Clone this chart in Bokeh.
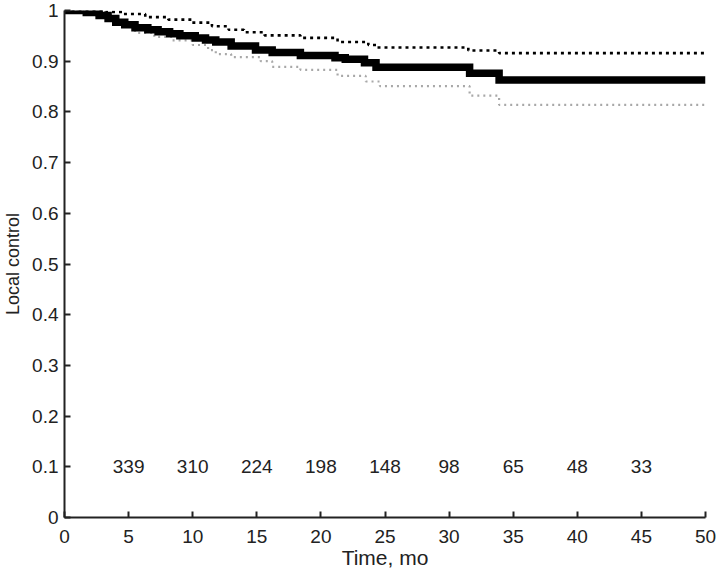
from bokeh.plotting import figure
from bokeh.models import ColumnDataSource, FixedTicker, Range1d
from bokeh.core.properties import value
from bokeh.embed import file_html
from bokeh.resources import INLINE

# Kaplan-Meier estimate (step times, values)
km_t = [0, 1.7, 2.7, 3.4, 4.0, 4.7, 5.5, 6.5, 7.3, 8.2, 9.0, 10.2, 11.0, 11.8,
        13.0, 14.9, 16.2, 18.4, 21.1, 21.9, 23.4, 24.3, 31.6, 33.9, 50]
km_s = [1.0, 0.996, 0.990, 0.984, 0.977, 0.972, 0.966, 0.962, 0.958, 0.954, 0.950,
        0.946, 0.942, 0.938, 0.930, 0.922, 0.917, 0.911, 0.907, 0.904, 0.897, 0.888,
        0.876, 0.863, 0.863]

# upper confidence bound
up_t = [0, 3.2, 4.5, 6.3, 8.1, 9.9, 11.5, 12.8, 14.0, 15.6, 18.4, 21.3, 23.7,
        24.3, 31.5, 33.9, 50]
up_s = [1.0, 0.997, 0.993, 0.987, 0.982, 0.976, 0.969, 0.962, 0.957, 0.951, 0.946,
        0.938, 0.932, 0.927, 0.921, 0.916, 0.916]

# lower confidence bound
lo_t = [0, 1.6, 2.2, 3.4, 4.7, 5.5, 7.0, 8.4, 10.0, 11.2, 11.8, 13.0, 15.3, 16.2,
        18.4, 21.3, 23.5, 24.6, 31.6, 33.9, 50]
lo_s = [1.0, 0.995, 0.990, 0.981, 0.971, 0.956, 0.948, 0.941, 0.932, 0.922, 0.914,
        0.908, 0.900, 0.889, 0.883, 0.871, 0.860, 0.851, 0.832, 0.814, 0.814]

# numbers at risk
risk_t = [5, 10, 15, 20, 25, 30, 35, 40, 45]
risk_n = ["339", "310", "224", "198", "148", "98", "65", "48", "33"]
risk_y = 0.1

x_ticks = [0, 5, 10, 15, 20, 25, 30, 35, 40, 45, 50]
y_ticks = [0, 0.1, 0.2, 0.3, 0.4, 0.5, 0.6, 0.7, 0.8, 0.9, 1]

FONT = "Liberation Sans"

p = figure(frame_width=641, frame_height=507, output_backend="svg",
           toolbar_location=None, x_range=Range1d(0, 50), y_range=Range1d(0, 1),
           min_border_top=10, min_border_right=13, min_border_left=64, min_border_bottom=0)
p.outline_line_color = None
p.grid.grid_line_color = None
p.background_fill_color = "white"
p.border_fill_color = "white"

p.step(up_t, up_s, mode="after", line_color="black", line_width=2.6, line_dash="3 4")
p.step(lo_t, lo_s, mode="after", line_color="#a8a8a8", line_width=2.2, line_dash="2 4")
p.step(km_t, km_s, mode="after", line_color="black", line_width=7.5, line_join="miter")

src = ColumnDataSource(dict(x=risk_t, y=[risk_y] * len(risk_t), t=risk_n))
p.text(x="x", y="y", text="t", source=src, text_align="center", text_baseline="middle",
       text_font=value(FONT), text_font_size="19px", text_color="#222222")

for ax in (p.xaxis[0], p.yaxis[0]):
    ax.axis_line_color = "#222222"
    ax.axis_line_width = 2
    ax.major_tick_in = 6
    ax.major_tick_out = 0
    ax.major_tick_line_width = 2
    ax.major_tick_line_color = "#222222"
    ax.minor_tick_line_color = None
    ax.major_label_text_font = FONT
    ax.major_label_text_font_size = "19px"
    ax.major_label_text_color = "#222222"
    ax.axis_label_text_font = FONT
    ax.axis_label_text_font_style = "normal"
    ax.axis_label_text_color = "#222222"

p.xaxis.ticker = FixedTicker(ticks=x_ticks)
p.yaxis.ticker = FixedTicker(ticks=y_ticks)
p.yaxis.major_label_overrides = {0: "0", 1: "1"}
p.xaxis.axis_label = "Time, mo"
p.yaxis.axis_label = "Local control"
p.xaxis.axis_label_text_font_size = "21px"
p.yaxis.axis_label_text_font_size = "18px"
p.xaxis.major_label_standoff = 12
p.xaxis.axis_label_standoff = 0
p.yaxis.major_label_standoff = 6
p.yaxis.axis_label_standoff = 6

open("out.html", "w").write(file_html(p, INLINE))
